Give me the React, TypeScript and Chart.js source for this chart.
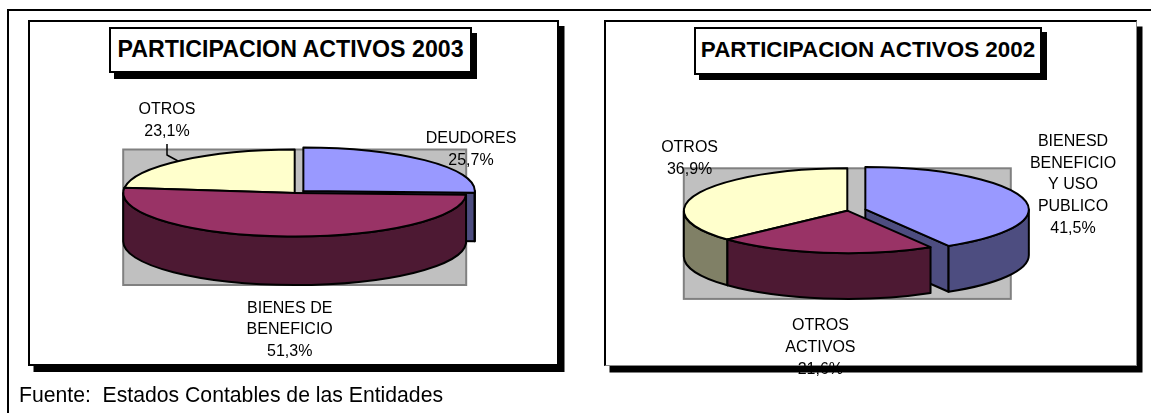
import React, { useEffect, useRef } from "react";
import { Chart, registerables } from "chart.js";

Chart.register(...registerables);

const FONT = '"Liberation Sans", Arial, sans-serif';

const titleA = "PARTICIPACION ACTIVOS 2003";
const categoriesA = ["DEUDORES", "BIENES DE BENEFICIO", "OTROS"];
const valuesA = [25.7, 51.3, 23.1];
const labelLinesA = [["DEUDORES", "25,7%"], ["BIENES DE", "BENEFICIO", "51,3%"], ["OTROS", "23,1%"]];

const titleB = "PARTICIPACION ACTIVOS 2002";
const categoriesB = ["BIENESD BENEFICIO Y USO PUBLICO", "OTROS ACTIVOS", "OTROS"];
const valuesB = [41.5, 21.6, 36.9];
const labelLinesB = [["BIENESD", "BENEFICIO", "Y USO", "PUBLICO", "41,5%"], ["OTROS", "ACTIVOS", "21,6%"], ["OTROS", "36,9%"]];

const topColors = ["#9999FF", "#993366", "#FFFFCC"];
const sideColors = ["#4D4D80", "#4D1933", "#808066"];

const footer = "Fuente:  Estados Contables de las Entidades";

type Cfg = {
  categories: string[];
  values: number[];
  lines: string[][];
  cx: number; cy: number; rx: number; ry: number; depth: number; explode: number[];
  labelPos: number[][];
  leader?: number[][];
};

const pieA: Cfg = {
  categories: categoriesA, values: valuesA, lines: labelLinesA,
  cx: 294.7, cy: 193, rx: 171.5, ry: 43.5, depth: 48.5, explode: [12, 0, 0],
  labelPos: [[471, 139], [289.7, 308.3], [167, 110]],
  leader: [[167, 144], [167, 155], [178, 161]],
};
const pieB: Cfg = {
  categories: categoriesB, values: valuesB, lines: labelLinesB,
  cx: 847.3, cy: 210.7, rx: 163.5, ry: 42.4, depth: 45.8, explode: [18.7, 0, 0],
  labelPos: [[1073, 141.5], [820.4, 326], [689.6, 148]],
};

const pie3d = (cfg: Cfg) => ({
  id: "pie3d",
  beforeDatasetsDraw(chart: any) {
    const ctx: CanvasRenderingContext2D = chart.ctx;
    const arcs = chart.getDatasetMeta(0).data as any[];
    const first = arcs[0];
    const cx = first.x, cy = first.y, rx = first.outerRadius;
    const ry = cfg.ry, squash = ry / rx, d = cfg.depth;

    // grey plot area
    ctx.save();
    ctx.fillStyle = "#C0C0C0";
    ctx.strokeStyle = "#808080";
    ctx.lineWidth = 2;
    ctx.fillRect(cx - rx, cy - ry, 2 * rx, 2 * ry + d);
    ctx.strokeRect(cx - rx, cy - ry, 2 * rx, 2 * ry + d);
    ctx.restore();

    const order = arcs
      .map((a, i) => ({ a, i, mid: (a.startAngle + a.endAngle) / 2 }))
      .sort((p, q) => Math.sin(p.mid) - Math.sin(q.mid));

    ctx.lineJoin = "round";
    ctx.lineWidth = 2;
    ctx.strokeStyle = "#000";
    for (const { a, i, mid } of order) {
      const off = cfg.explode[i];
      const x0 = cx + Math.cos(mid) * off;
      const y0 = cy + Math.sin(mid) * off * squash;
      const pt = (t: number): [number, number] => [x0 + rx * Math.cos(t), y0 + ry * Math.sin(t)];
      ctx.fillStyle = sideColors[i];
      const radial = (t: number) => {
        const [px, py] = pt(t);
        ctx.beginPath();
        ctx.moveTo(x0, y0);
        ctx.lineTo(px, py);
        ctx.lineTo(px, py + d);
        ctx.lineTo(x0, y0 + d);
        ctx.closePath();
        ctx.fill();
        ctx.stroke();
      };
      if (Math.cos(a.startAngle) < 0) radial(a.startAngle);
      if (Math.cos(a.endAngle) > 0) radial(a.endAngle);
      const w0 = Math.max(a.startAngle, 0), w1 = Math.min(a.endAngle, Math.PI);
      if (w1 > w0) {
        ctx.beginPath();
        ctx.ellipse(x0, y0, rx, ry, 0, w0, w1);
        ctx.ellipse(x0, y0 + d, rx, ry, 0, w1, w0, true);
        ctx.closePath();
        ctx.fill();
        ctx.stroke();
      }
      // the slice itself, squashed into perspective
      ctx.save();
      ctx.translate(x0, y0);
      ctx.scale(1, squash);
      ctx.translate(-cx, -cy);
      a.draw(ctx);
      ctx.restore();
      ctx.beginPath();
      ctx.moveTo(x0, y0);
      ctx.ellipse(x0, y0, rx, ry, 0, a.startAngle, a.endAngle);
      ctx.closePath();
      ctx.stroke();
    }

    if (cfg.leader) {
      ctx.beginPath();
      cfg.leader.forEach(([x, y], k) => (k ? ctx.lineTo(x, y) : ctx.moveTo(x, y)));
      ctx.lineWidth = 1.5;
      ctx.stroke();
    }

    ctx.fillStyle = "#000";
    ctx.font = `16px ${FONT}`;
    ctx.textAlign = "center";
    ctx.textBaseline = "middle";
    cfg.lines.forEach((ls, i) => {
      ls.forEach((t, k) => ctx.fillText(t, cfg.labelPos[i][0], cfg.labelPos[i][1] + k * 21.7));
    });
    return false;
  },
});

function Pie3D({ cfg }: { cfg: Cfg }) {
  const ref = useRef<HTMLCanvasElement>(null);
  useEffect(() => {
    const W = 1151, H = 413;
    const chart = new Chart(ref.current!, {
      type: "pie",
      data: {
        labels: cfg.categories,
        datasets: [{ data: cfg.values, backgroundColor: topColors, borderWidth: 0 }],
      },
      options: {
        responsive: false,
        animation: false,
        radius: cfg.rx,
        layout: {
          padding: {
            left: Math.max(0, 2 * cfg.cx - W),
            right: Math.max(0, W - 2 * cfg.cx),
            top: Math.max(0, 2 * cfg.cy - H),
            bottom: Math.max(0, H - 2 * cfg.cy),
          },
        },
        plugins: { legend: { display: false }, tooltip: { enabled: false }, title: { display: false } },
      } as any,
      plugins: [pie3d(cfg)],
    });
    return () => chart.destroy();
  }, [cfg]);
  return <canvas ref={ref} width={1151} height={413} style={{ position: "absolute", left: 0, top: 0, width: 1151, height: 413 }} />;
}

const box = (l: number, t: number, r: number, b: number, sx: number, sy: number, extra: any = {}) => ({
  position: "absolute" as const,
  left: l, top: t, width: r - l, height: b - t,
  boxSizing: "border-box" as const,
  background: "#fff",
  border: "2px solid #000",
  boxShadow: `${sx}px ${sy}px 0 #000`,
  ...extra,
});

const titleStyle = (size: number) => ({
  display: "flex", alignItems: "center", justifyContent: "center",
  fontFamily: FONT, fontWeight: 700, fontSize: size, color: "#000", whiteSpace: "nowrap" as const,
  paddingBottom: 2,
});

export default function App() {
  return (
    <div style={{ position: "absolute", left: 0, top: 0, width: 1151, height: 413, overflow: "hidden", background: "#fff" }}>
      <div style={{ position: "absolute", left: 7, top: 8.5, width: 1144, height: 2, background: "#000" }} />
      <div style={{ position: "absolute", left: 7, top: 8.5, width: 1.5, height: 405, background: "#000" }} />

      <div style={box(27.5, 20, 559, 366, 5.5, 6)} />
      <div style={box(603.5, 20, 1137, 366, 5.5, 6.5, { borderRight: "1px solid #888", borderBottom: "1px solid #888" })} />

      <div style={{ ...box(109, 27, 472, 73, 5, 6), ...titleStyle(23.2) }}>{titleA}</div>
      <div style={{ ...box(694, 27, 1042, 75, 5, 5), ...titleStyle(22.4) }}>{titleB}</div>

      <Pie3D cfg={pieA} />
      <Pie3D cfg={pieB} />

      <div style={{ position: "absolute", left: 19, top: 382.5, fontFamily: FONT, fontSize: 21.2, lineHeight: "24px", color: "#000", whiteSpace: "pre" }}>{footer}</div>
    </div>
  );
}
